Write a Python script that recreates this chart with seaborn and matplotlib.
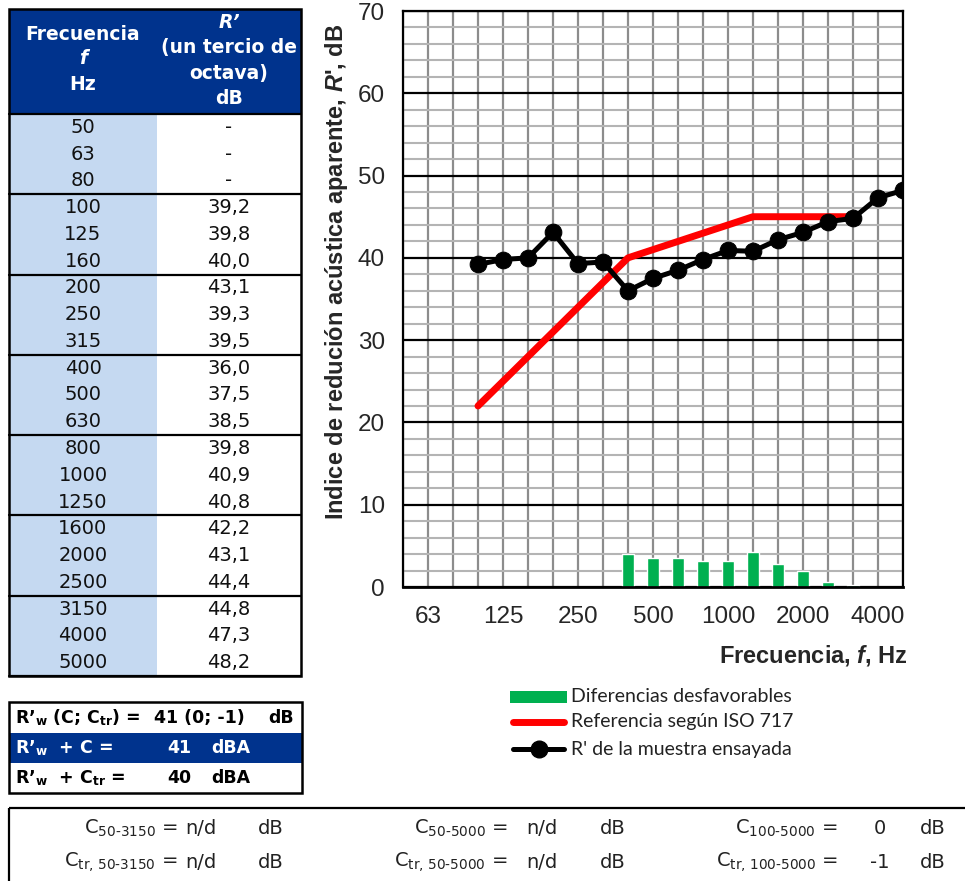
import numpy as np
import pandas as pd
import matplotlib
matplotlib.use("Agg")
import matplotlib.pyplot as plt
import seaborn as sns
from matplotlib.patches import Rectangle
from matplotlib.lines import Line2D

# ---------------- data ----------------
freqs = [50, 63, 80, 100, 125, 160, 200, 250, 315, 400, 500, 630, 800, 1000,
         1250, 1600, 2000, 2500, 3150, 4000, 5000]
r_prime = [np.nan, np.nan, np.nan, 39.2, 39.8, 40.0, 43.1, 39.3, 39.5, 36.0, 37.5,
           38.5, 39.8, 40.9, 40.8, 42.2, 43.1, 44.4, 44.8, 47.3, 48.2]
ref_iso717 = [np.nan, np.nan, np.nan, 22, 25, 28, 31, 34, 37, 40, 41, 42, 43, 44,
              45, 45, 45, 45, 45, np.nan, np.nan]
unfavourable = [np.nan, np.nan, np.nan, np.nan, np.nan, np.nan, np.nan, np.nan, np.nan,
                4.0, 3.5, 3.5, 3.2, 3.1, 4.2, 2.8, 1.9, 0.6, 0.3, np.nan, np.nan]
xtick_labels = ["63", "125", "250", "500", "1000", "2000", "4000"]

rw, c_val, ctr_val = 41, 0, -1
rw_c, rw_ctr = 41, 40
c_terms = [("50-3150", "n/d"), ("50-5000", "n/d"), ("100-5000", "0")]
ctr_terms = [("tr, 50-3150", "n/d"), ("tr, 50-5000", "n/d"), ("tr, 100-5000", "-1")]

legend_labels = ["Diferencias desfavorables", "Referencia según ISO 717",
                 "R' de la muestra ensayada"]

# ---------------- style ----------------
sns.set_style("white")
plt.rcParams["font.family"] = ["DejaVu Sans"]
plt.rcParams["mathtext.fontset"] = "custom"
plt.rcParams["mathtext.rm"] = "DejaVu Sans"
plt.rcParams["mathtext.bf"] = "DejaVu Sans:bold"
plt.rcParams["mathtext.it"] = "Liberation Sans:italic:bold"

DARK = "#00338D"
LIGHT = "#C5D9F1"
GREEN = "#00B050"

W, H = 965, 881
fig = plt.figure(figsize=(W / 100, H / 100), dpi=100)

# overlay in pixel coordinates for tables / legend / labels
ov = fig.add_axes([0, 0, 1, 1])
ov.set_xlim(0, W)
ov.set_ylim(H, 0)
ov.axis("off")

# ---------------- main chart ----------------
ax = fig.add_axes([403 / W, (H - 587) / H, (903 - 403) / W, (587 - 11) / H])
df = pd.DataFrame({"pos": np.arange(len(freqs)), "freq": freqs, "R": r_prime,
                   "ref": ref_iso717, "diff": unfavourable})

bars = df.dropna(subset=["diff"])
sns.barplot(data=bars, x="pos", y="diff", native_scale=True, width=0.48,
            color=GREEN, saturation=1, ax=ax, zorder=2)
sns.lineplot(data=df.dropna(subset=["ref"]), x="pos", y="ref", color="#FF0000",
             lw=5, ax=ax, zorder=3)
sns.lineplot(data=df.dropna(subset=["R"]), x="pos", y="R", color="black",
             lw=3.6, marker="o", markersize=12, markeredgecolor="black", ax=ax, zorder=4)

ax.set_xlim(0, len(freqs) - 1)
ax.set_ylim(0, 70)
ax.set_xlabel("")
ax.set_ylabel("")
ax.set_facecolor("white")
ax.set_axisbelow(True)

ax.set_xticks(np.arange(len(freqs)))
lbls = [""] * len(freqs)
for k, t in enumerate(xtick_labels):
    lbls[1 + 3 * k] = t
ax.set_xticklabels(lbls, fontsize=17.5, fontfamily="Liberation Sans")
ax.set_yticks(np.arange(0, 71, 10))
ax.set_yticks(np.arange(0, 71, 2), minor=True)
ax.set_yticklabels([str(v) for v in range(0, 71, 10)], fontsize=17.5,
                   fontfamily="Liberation Sans")

ax.grid(which="minor", axis="y", color="#B4B4B4", lw=1.5)
ax.grid(which="major", axis="y", color="black", lw=1.6)
ax.grid(which="major", axis="x", color="#8C8C8C", lw=1.6)
ax.tick_params(axis="x", which="major", direction="out", length=5, width=1.6,
               color="black", pad=9)
ax.tick_params(axis="y", which="major", direction="inout", length=10, width=1.6,
               color="black", pad=8)
ax.tick_params(axis="y", which="minor", length=0)
for s in ax.spines.values():
    s.set_visible(True)
    s.set_color("black")
    s.set_linewidth(1.6)
ax.spines["bottom"].set_linewidth(2)

# axis titles
ov.text(336, 272, "Indice de redución acústica aparente, $\\mathit{R}$', dB",
        rotation=90, ha="center", va="center", fontsize=17, fontweight="bold",
        fontfamily="Liberation Sans")
ov.text(908, 655, "Frecuencia, $\\mathit{f}$, Hz", ha="right", va="center",
        fontsize=17, fontweight="bold", fontfamily="Liberation Sans")

# ---------------- left table ----------------
t_left, t_mid, t_right = 9, 157, 301
t_top, h_bot, t_bot = 9, 114, 676
ov.add_patch(Rectangle((t_left, t_top), t_right - t_left, h_bot - t_top,
                       facecolor=DARK, edgecolor="none"))
ov.add_patch(Rectangle((t_left, h_bot), t_mid - t_left, t_bot - h_bot,
                       facecolor=LIGHT, edgecolor="none"))
row_h = (t_bot - h_bot) / len(freqs)
for g in range(0, len(freqs) + 1, 3):
    yy = h_bot + g * row_h
    ov.plot([t_left, t_right], [yy, yy], color="black", lw=1.6)
ov.add_patch(Rectangle((t_left, t_top), t_right - t_left, t_bot - t_top,
                       facecolor="none", edgecolor="black", lw=1.8))

hdr = dict(color="white", fontsize=13.5, fontweight="bold", ha="center", va="center")
ov.text(83, 34, "Frecuencia", **hdr)
ov.text(83, 58, "f", fontstyle="italic", **hdr)
ov.text(83, 85, "Hz", **hdr)
ov.text(229, 22, "R’", fontstyle="italic", **hdr)
ov.text(229, 48, "(un tercio de", **hdr)
ov.text(229, 74, "octava)", **hdr)
ov.text(229, 99, "dB", **hdr)

for i, (f, v) in enumerate(zip(freqs, r_prime)):
    yc = h_bot + (i + 0.5) * row_h
    ov.text(83, yc, str(f), ha="center", va="center", fontsize=14, color="#111111")
    s = "-" if np.isnan(v) else f"{v:.1f}".replace(".", ",")
    ov.text(229, yc, s, ha="center", va="center", fontsize=14, color="#111111")

# ---------------- single number box ----------------
b_top, b_bot = 702, 793
ov.add_patch(Rectangle((9, 733), 293, 30, facecolor=DARK, edgecolor="none"))
ov.add_patch(Rectangle((9, b_top), 293, b_bot - b_top, facecolor="none",
                       edgecolor="black", lw=1.8))
bt = dict(fontsize=12.5, fontweight="bold", va="center", ha="left")
ov.text(15, 718, "R’$_\\mathbf{w}$ (C; C$_\\mathbf{tr}$) =", color="black", **bt)
ov.text(154, 718, f"{rw} ({c_val}; {ctr_val})", color="black", **bt)
ov.text(268, 718, "dB", color="black", **bt)
ov.text(15, 748, "R’$_\\mathbf{w}$  + C =", color="white", **bt)
ov.text(167, 748, f"{rw_c}", color="white", **bt)
ov.text(211, 748, "dBA", color="white", **bt)
ov.text(15, 778, "R’$_\\mathbf{w}$  + C$_\\mathbf{tr}$ =", color="black", **bt)
ov.text(167, 778, f"{rw_ctr}", color="black", **bt)
ov.text(211, 778, "dBA", color="black", **bt)

# ---------------- bottom box ----------------
ov.add_patch(Rectangle((9, 808), 970, 90, facecolor="none", edgecolor="black", lw=1.6))
eq_x = [178, 508, 838]
val_x = [201, 542, 880]
db_x = [258, 600, 920]
bb = dict(fontsize=14, va="center", color="#222222")
for k in range(3):
    sub, val = c_terms[k]
    ov.text(eq_x[k], 828, "C$_{\\text{" + sub + "}}$ =", ha="right", **bb)
    ov.text(val_x[k], 828, val, ha="center", **bb)
    ov.text(db_x[k], 828, "dB", ha="left", **bb)
    sub2, val2 = ctr_terms[k]
    ov.text(eq_x[k], 862, "C$_{\\text{" + sub2 + "}}$ =", ha="right", **bb)
    ov.text(val_x[k], 862, val2, ha="center", **bb)
    ov.text(db_x[k], 862, "dB", ha="left", **bb)

# ---------------- legend ----------------
ov.add_patch(Rectangle((510, 691), 57, 12, facecolor=GREEN, edgecolor="none"))
ov.add_line(Line2D([513, 564], [722, 722], color="#FF0000", lw=5,
                   solid_capstyle="round"))
ov.add_line(Line2D([513, 564], [749, 749], color="black", lw=3.6,
                   solid_capstyle="round"))
ov.add_line(Line2D([539], [749], marker="o", markersize=12, color="black"))
lg = dict(fontsize=14, va="center", ha="left", fontfamily="Lato", color="#222222")
for yy, lab in zip([697, 722, 749], legend_labels):
    ov.text(571, yy, lab, **lg)

fig.savefig("out.png", dpi=100)
